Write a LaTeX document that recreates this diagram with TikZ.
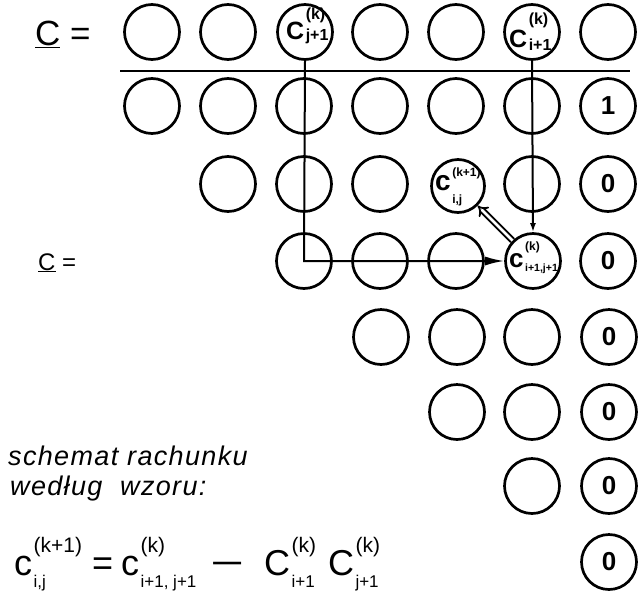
\documentclass[tikz,border=0pt]{standalone}
\usepackage{fontspec}
\setmainfont{Liberation Sans}
\setsansfont{Liberation Sans}
\usetikzlibrary{arrows.meta}
\newcommand\fs[1]{\fontsize{#1}{#1}\selectfont}
% base, sup, sub, raise of sup, lowering of sub
\newcommand\ix[5]{#1\kern1.5pt\setbox0=\hbox{#2}\setbox2=\hbox{#3}%
  \ifdim\wd0>\wd2 \rlap{\raisebox{-#5}{\box2}}\raisebox{#4}{\box0}%
  \else\rlap{\raisebox{#4}{\box0}}\raisebox{-#5}{\box2}\fi}
\tikzset{
  cell/.style={draw, circle, line width=2.7pt, minimum size=55pt, inner sep=0pt},
  smallcell/.style={cell, minimum size=53pt},
  digitfont/.style={font=\fs{26}\bfseries},
  conn/.style={line width=2pt},
  rule/.style={line width=2pt},
  txt/.style={inner sep=0pt, anchor=base west}
}
\begin{document}
\begin{tikzpicture}[x=1pt,y=-1pt]
\useasboundingbox (0,0) rectangle (639,592);

% row 0
\node[cell] (r0c1) at (152,32) {};
\node[cell] (r0c2) at (228,32) {};
\node[cell] (Cj) at (305,32) {};
\node[cell] (r0c4) at (380,32) {};
\node[cell] (r0c5) at (456,32) {};
\node[cell] (Ci) at (532,32) {};
\node[cell] (r0c7) at (608,32) {};
\node[txt, font=\bfseries] (CjL) at (286,39) {\ix{\fs{25}C}{\fs{16}(k)}{\fs{16}j+1}{20pt}{1pt}};
\node[txt, font=\bfseries] (CiL) at (509,47) {\ix{\fs{25}C}{\fs{16}(k)}{\fs{16}i+1}{23pt}{3pt}};

% rule
\coordinate (hl) at (120,71);
\coordinate (hr) at (630,71);
\draw[rule] (hl) -- (hr);

% row 1
\foreach \c/\x in {1/152,2/228,3/304,4/380,5/456,6/532}
  \node[cell] (r1c\c) at (\x,106) {};
\node[cell, digitfont] (r1c7) at (608,106) {1};

% row 2
\foreach \c/\x in {2/228,3/304,4/380,6/532}
  \node[cell] (r2c\c) at (\x,184) {};
\node[smallcell] (cij) at (458,186) {};
\node[txt, font=\bfseries] (cijL) at (435,190) {\ix{\fs{28}c}{\fs{12}(k+1)}{\fs{12}i,j}{14pt}{13pt}};
\node[cell, digitfont] (r2c7) at (608,184) {0};

% row 3
\foreach \c/\x in {3/304,4/380,5/456}
  \node[cell] (r3c\c) at (\x,261) {};
\node[cell] (cij1) at (533,261) {};
\node[txt, font=\bfseries] (cij1L) at (509,267) {\ix{\fs{26}c}{\fs{12}(k)}{\fs{10.5}i+1,j+1}{17pt}{4pt}};
\node[cell, digitfont] (r3c7) at (608,261) {0};

% row 4
\foreach \c/\x in {4/381,5/457,6/532}
  \node[cell] (r4c\c) at (\x,337) {};
\node[cell, digitfont] (r4c7) at (609,337) {0};

% row 5
\foreach \c/\x in {5/457,6/532}
  \node[cell] (r5c\c) at (\x,412) {};
\node[cell, digitfont] (r5c7) at (609,412) {0};

% row 6
\node[cell] (r6c6) at (532,486) {};
\node[cell, digitfont] (r6c7) at (609,486) {0};

% row 7
\node[cell, digitfont] (r7c7) at (609,562) {0};

% connectors
\draw[conn, -{Latex[length=19pt,width=9pt]}] (Cj.south) -- (r3c3.center) -- (cij1.west);
\draw[conn, -{Latex[length=9pt,width=6pt]}] (Ci.south) -- (cij1.north);
\draw[double, line width=1.8pt, double distance=2.8pt, -{Implies}] (cij1.135) -- (cij.-45);

% labels
\node[txt, font=\fs{35}] (lab1) at (35,45) {\underline{C} =};
\node[txt, font=\fs{24}] (lab2) at (38,270) {\underline{C} =};
\node[txt, font=\fs{27}\itshape\addfontfeature{LetterSpace=5}] (t1) at (8,465) {schemat rachunku};
\node[txt, font=\fs{27}\itshape\addfontfeature{LetterSpace=5}] (t2) at (10,495) {według\ \ wzoru:};
\node[txt, font=\fs{36}] (formula) at (14,575)
  {\ix{c}{\fs{21}(k+1)}{\fs{17}i,j}{23pt}{12pt}\hspace{10pt}=\hspace{8pt}%
   \ix{c}{\fs{21}(k)}{\fs{17}i+1, j+1}{23pt}{12pt}\hspace{14pt}\scalebox{1.6}[1]{−}\hspace{20pt}%
   \ix{C}{\fs{21}(k)}{\fs{17}i+1}{23pt}{12pt}\hspace{12pt}%
   \ix{C}{\fs{21}(k)}{\fs{17}j+1}{23pt}{12pt}};
\end{tikzpicture}
\end{document}
